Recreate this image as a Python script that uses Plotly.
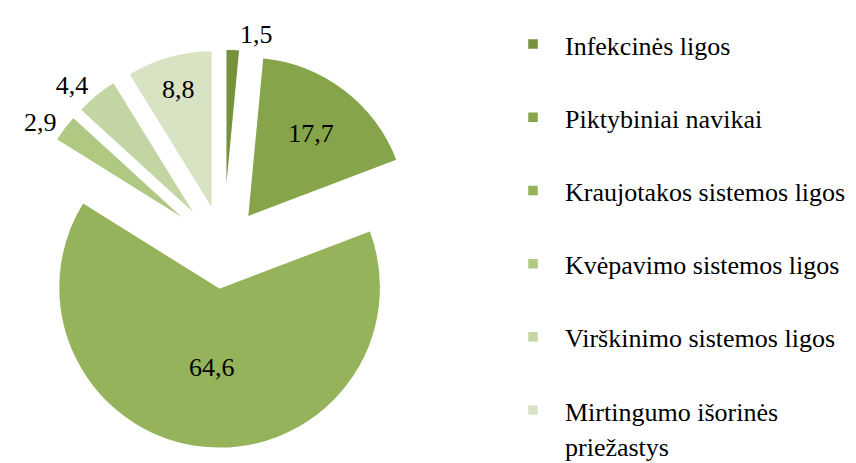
import plotly.graph_objects as go

categories = ["Infekcinės ligos", "Piktybiniai navikai", "Kraujotakos sistemos ligos",
              "Kvėpavimo sistemos ligos", "Virškinimo sistemos ligos",
              "Mirtingumo išorinės<br>priežastys"]
values = [1.5, 17.7, 64.6, 2.9, 4.4, 8.8]
colors = ["#76923c", "#86a44a", "#95b35a", "#afc982", "#c3d5a3", "#d7e3c3"]
text_pos = ["outside", "inside", "inside", "outside", "outside", "inside"]

FONT = "Times New Roman, Liberation Serif, serif"

# legend entries: text at 26px, with a spacer line so entries are spread out
legend_labels = []
for i, c in enumerate(categories):
    parts = c.split("<br>")
    txt = "<br>".join("<span style='font-size:26px'>%s</span>" % p for p in parts)
    if len(parts) == 1:
        txt += "<br>\u00a0"
    legend_labels.append(txt)

fig = go.Figure(go.Pie(
    labels=legend_labels,
    values=values,
    sort=False,
    direction="clockwise",
    rotation=0,
    pull=[0.24] * len(values),
    marker=dict(colors=colors, line=dict(color="white", width=2.5)),
    texttemplate="%{value:.1f}",
    textposition=text_pos,
    insidetextorientation="horizontal",
    textfont=dict(family=FONT, size=26, color="black"),
    hoverinfo="value",
    domain=dict(x=[15.1 / 856, 415.7 / 856], y=[1 - 441.0 / 463, 1 - 40.4 / 463]),
))

fig.update_layout(
    width=856, height=463,
    margin=dict(l=0, r=0, t=0, b=0, autoexpand=False),
    separators=", ",
    paper_bgcolor="white",
    plot_bgcolor="white",
    font=dict(family=FONT, color="black"),
    legend=dict(
        x=493 / 856, xanchor="left", y=1 - 12 / 463, yanchor="top",
        font=dict(family=FONT, size=27, color="black"),
        valign="top",
        itemwidth=54,
        bgcolor="rgba(0,0,0,0)",
    ),
    showlegend=True,
)

fig.write_html("out.html")
